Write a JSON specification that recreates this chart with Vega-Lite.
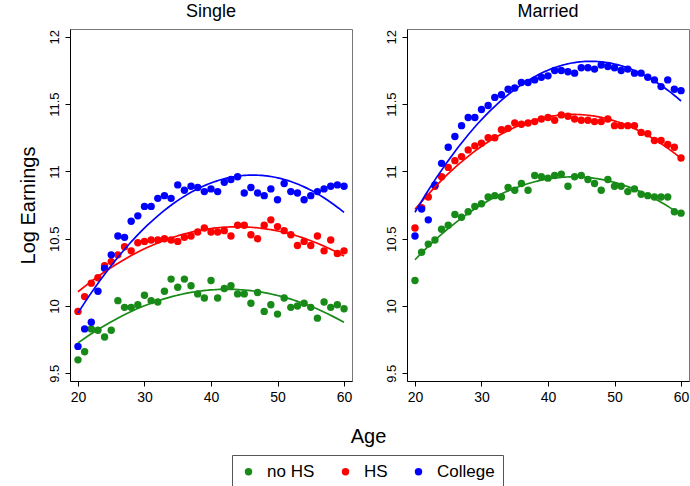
{
  "$schema": "https://vega.github.io/schema/vega-lite/v6.json",
  "background": "white",
  "padding": {"left": 17, "top": 2, "right": 0, "bottom": 0},
  "datasets": {
    "earn": [
      {"status":"Single","edu":"no HS","age":20,"logEarn":9.60},{"status":"Single","edu":"no HS","age":21,"logEarn":9.66},{"status":"Single","edu":"no HS","age":22,"logEarn":9.83},{"status":"Single","edu":"no HS","age":23,"logEarn":9.82},{"status":"Single","edu":"no HS","age":24,"logEarn":9.77},{"status":"Single","edu":"no HS","age":25,"logEarn":9.82},{"status":"Single","edu":"no HS","age":26,"logEarn":10.04},{"status":"Single","edu":"no HS","age":27,"logEarn":9.99},{"status":"Single","edu":"no HS","age":28,"logEarn":9.99},{"status":"Single","edu":"no HS","age":29,"logEarn":10.01},{"status":"Single","edu":"no HS","age":30,"logEarn":10.08},{"status":"Single","edu":"no HS","age":31,"logEarn":10.04},{"status":"Single","edu":"no HS","age":32,"logEarn":10.03},{"status":"Single","edu":"no HS","age":33,"logEarn":10.11},{"status":"Single","edu":"no HS","age":34,"logEarn":10.20},{"status":"Single","edu":"no HS","age":35,"logEarn":10.14},{"status":"Single","edu":"no HS","age":36,"logEarn":10.20},{"status":"Single","edu":"no HS","age":37,"logEarn":10.15},{"status":"Single","edu":"no HS","age":38,"logEarn":10.09},{"status":"Single","edu":"no HS","age":39,"logEarn":10.06},{"status":"Single","edu":"no HS","age":40,"logEarn":10.19},{"status":"Single","edu":"no HS","age":41,"logEarn":10.06},{"status":"Single","edu":"no HS","age":42,"logEarn":10.13},{"status":"Single","edu":"no HS","age":43,"logEarn":10.15},{"status":"Single","edu":"no HS","age":44,"logEarn":10.09},{"status":"Single","edu":"no HS","age":45,"logEarn":10.09},{"status":"Single","edu":"no HS","age":46,"logEarn":10.02},{"status":"Single","edu":"no HS","age":47,"logEarn":10.10},{"status":"Single","edu":"no HS","age":48,"logEarn":9.96},{"status":"Single","edu":"no HS","age":49,"logEarn":10.01},{"status":"Single","edu":"no HS","age":50,"logEarn":9.94},{"status":"Single","edu":"no HS","age":51,"logEarn":10.06},{"status":"Single","edu":"no HS","age":52,"logEarn":9.99},{"status":"Single","edu":"no HS","age":53,"logEarn":10.00},{"status":"Single","edu":"no HS","age":54,"logEarn":10.02},{"status":"Single","edu":"no HS","age":55,"logEarn":9.99},{"status":"Single","edu":"no HS","age":56,"logEarn":9.91},{"status":"Single","edu":"no HS","age":57,"logEarn":10.03},{"status":"Single","edu":"no HS","age":58,"logEarn":9.99},{"status":"Single","edu":"no HS","age":59,"logEarn":10.01},{"status":"Single","edu":"no HS","age":60,"logEarn":9.98},
      {"status":"Single","edu":"HS","age":20,"logEarn":9.96},{"status":"Single","edu":"HS","age":21,"logEarn":10.07},{"status":"Single","edu":"HS","age":22,"logEarn":10.17},{"status":"Single","edu":"HS","age":23,"logEarn":10.21},{"status":"Single","edu":"HS","age":24,"logEarn":10.30},{"status":"Single","edu":"HS","age":25,"logEarn":10.33},{"status":"Single","edu":"HS","age":26,"logEarn":10.38},{"status":"Single","edu":"HS","age":27,"logEarn":10.44},{"status":"Single","edu":"HS","age":28,"logEarn":10.41},{"status":"Single","edu":"HS","age":29,"logEarn":10.47},{"status":"Single","edu":"HS","age":30,"logEarn":10.48},{"status":"Single","edu":"HS","age":31,"logEarn":10.49},{"status":"Single","edu":"HS","age":32,"logEarn":10.49},{"status":"Single","edu":"HS","age":33,"logEarn":10.50},{"status":"Single","edu":"HS","age":34,"logEarn":10.49},{"status":"Single","edu":"HS","age":35,"logEarn":10.48},{"status":"Single","edu":"HS","age":36,"logEarn":10.51},{"status":"Single","edu":"HS","age":37,"logEarn":10.52},{"status":"Single","edu":"HS","age":38,"logEarn":10.55},{"status":"Single","edu":"HS","age":39,"logEarn":10.58},{"status":"Single","edu":"HS","age":40,"logEarn":10.55},{"status":"Single","edu":"HS","age":41,"logEarn":10.55},{"status":"Single","edu":"HS","age":42,"logEarn":10.56},{"status":"Single","edu":"HS","age":43,"logEarn":10.52},{"status":"Single","edu":"HS","age":44,"logEarn":10.60},{"status":"Single","edu":"HS","age":45,"logEarn":10.60},{"status":"Single","edu":"HS","age":46,"logEarn":10.53},{"status":"Single","edu":"HS","age":47,"logEarn":10.50},{"status":"Single","edu":"HS","age":48,"logEarn":10.60},{"status":"Single","edu":"HS","age":49,"logEarn":10.64},{"status":"Single","edu":"HS","age":50,"logEarn":10.59},{"status":"Single","edu":"HS","age":51,"logEarn":10.56},{"status":"Single","edu":"HS","age":52,"logEarn":10.53},{"status":"Single","edu":"HS","age":53,"logEarn":10.45},{"status":"Single","edu":"HS","age":54,"logEarn":10.48},{"status":"Single","edu":"HS","age":55,"logEarn":10.45},{"status":"Single","edu":"HS","age":56,"logEarn":10.52},{"status":"Single","edu":"HS","age":57,"logEarn":10.41},{"status":"Single","edu":"HS","age":58,"logEarn":10.49},{"status":"Single","edu":"HS","age":59,"logEarn":10.39},{"status":"Single","edu":"HS","age":60,"logEarn":10.41},
      {"status":"Single","edu":"College","age":20,"logEarn":9.70},{"status":"Single","edu":"College","age":21,"logEarn":9.83},{"status":"Single","edu":"College","age":22,"logEarn":9.88},{"status":"Single","edu":"College","age":23,"logEarn":10.11},{"status":"Single","edu":"College","age":24,"logEarn":10.28},{"status":"Single","edu":"College","age":25,"logEarn":10.38},{"status":"Single","edu":"College","age":26,"logEarn":10.52},{"status":"Single","edu":"College","age":27,"logEarn":10.51},{"status":"Single","edu":"College","age":28,"logEarn":10.63},{"status":"Single","edu":"College","age":29,"logEarn":10.67},{"status":"Single","edu":"College","age":30,"logEarn":10.74},{"status":"Single","edu":"College","age":31,"logEarn":10.74},{"status":"Single","edu":"College","age":32,"logEarn":10.80},{"status":"Single","edu":"College","age":33,"logEarn":10.82},{"status":"Single","edu":"College","age":34,"logEarn":10.80},{"status":"Single","edu":"College","age":35,"logEarn":10.90},{"status":"Single","edu":"College","age":36,"logEarn":10.86},{"status":"Single","edu":"College","age":37,"logEarn":10.89},{"status":"Single","edu":"College","age":38,"logEarn":10.88},{"status":"Single","edu":"College","age":39,"logEarn":10.85},{"status":"Single","edu":"College","age":40,"logEarn":10.87},{"status":"Single","edu":"College","age":41,"logEarn":10.85},{"status":"Single","edu":"College","age":42,"logEarn":10.92},{"status":"Single","edu":"College","age":43,"logEarn":10.94},{"status":"Single","edu":"College","age":44,"logEarn":10.96},{"status":"Single","edu":"College","age":45,"logEarn":10.84},{"status":"Single","edu":"College","age":46,"logEarn":10.88},{"status":"Single","edu":"College","age":47,"logEarn":10.84},{"status":"Single","edu":"College","age":48,"logEarn":10.82},{"status":"Single","edu":"College","age":49,"logEarn":10.87},{"status":"Single","edu":"College","age":50,"logEarn":10.79},{"status":"Single","edu":"College","age":51,"logEarn":10.91},{"status":"Single","edu":"College","age":52,"logEarn":10.85},{"status":"Single","edu":"College","age":53,"logEarn":10.84},{"status":"Single","edu":"College","age":54,"logEarn":10.79},{"status":"Single","edu":"College","age":55,"logEarn":10.82},{"status":"Single","edu":"College","age":56,"logEarn":10.85},{"status":"Single","edu":"College","age":57,"logEarn":10.87},{"status":"Single","edu":"College","age":58,"logEarn":10.89},{"status":"Single","edu":"College","age":59,"logEarn":10.90},{"status":"Single","edu":"College","age":60,"logEarn":10.89},
      {"status":"Married","edu":"no HS","age":20,"logEarn":10.19},{"status":"Married","edu":"no HS","age":21,"logEarn":10.40},{"status":"Married","edu":"no HS","age":22,"logEarn":10.46},{"status":"Married","edu":"no HS","age":23,"logEarn":10.49},{"status":"Married","edu":"no HS","age":24,"logEarn":10.57},{"status":"Married","edu":"no HS","age":25,"logEarn":10.60},{"status":"Married","edu":"no HS","age":26,"logEarn":10.68},{"status":"Married","edu":"no HS","age":27,"logEarn":10.66},{"status":"Married","edu":"no HS","age":28,"logEarn":10.70},{"status":"Married","edu":"no HS","age":29,"logEarn":10.74},{"status":"Married","edu":"no HS","age":30,"logEarn":10.76},{"status":"Married","edu":"no HS","age":31,"logEarn":10.81},{"status":"Married","edu":"no HS","age":32,"logEarn":10.82},{"status":"Married","edu":"no HS","age":33,"logEarn":10.81},{"status":"Married","edu":"no HS","age":34,"logEarn":10.88},{"status":"Married","edu":"no HS","age":35,"logEarn":10.86},{"status":"Married","edu":"no HS","age":36,"logEarn":10.91},{"status":"Married","edu":"no HS","age":37,"logEarn":10.86},{"status":"Married","edu":"no HS","age":38,"logEarn":10.97},{"status":"Married","edu":"no HS","age":39,"logEarn":10.96},{"status":"Married","edu":"no HS","age":40,"logEarn":10.95},{"status":"Married","edu":"no HS","age":41,"logEarn":10.97},{"status":"Married","edu":"no HS","age":42,"logEarn":10.98},{"status":"Married","edu":"no HS","age":43,"logEarn":10.89},{"status":"Married","edu":"no HS","age":44,"logEarn":10.96},{"status":"Married","edu":"no HS","age":45,"logEarn":10.97},{"status":"Married","edu":"no HS","age":46,"logEarn":10.94},{"status":"Married","edu":"no HS","age":47,"logEarn":10.91},{"status":"Married","edu":"no HS","age":48,"logEarn":10.86},{"status":"Married","edu":"no HS","age":49,"logEarn":10.94},{"status":"Married","edu":"no HS","age":50,"logEarn":10.89},{"status":"Married","edu":"no HS","age":51,"logEarn":10.89},{"status":"Married","edu":"no HS","age":52,"logEarn":10.85},{"status":"Married","edu":"no HS","age":53,"logEarn":10.87},{"status":"Married","edu":"no HS","age":54,"logEarn":10.83},{"status":"Married","edu":"no HS","age":55,"logEarn":10.82},{"status":"Married","edu":"no HS","age":56,"logEarn":10.81},{"status":"Married","edu":"no HS","age":57,"logEarn":10.81},{"status":"Married","edu":"no HS","age":58,"logEarn":10.81},{"status":"Married","edu":"no HS","age":59,"logEarn":10.70},{"status":"Married","edu":"no HS","age":60,"logEarn":10.69},
      {"status":"Married","edu":"HS","age":20,"logEarn":10.58},{"status":"Married","edu":"HS","age":21,"logEarn":10.73},{"status":"Married","edu":"HS","age":22,"logEarn":10.81},{"status":"Married","edu":"HS","age":23,"logEarn":10.89},{"status":"Married","edu":"HS","age":24,"logEarn":10.96},{"status":"Married","edu":"HS","age":25,"logEarn":11.03},{"status":"Married","edu":"HS","age":26,"logEarn":11.08},{"status":"Married","edu":"HS","age":27,"logEarn":11.11},{"status":"Married","edu":"HS","age":28,"logEarn":11.16},{"status":"Married","edu":"HS","age":29,"logEarn":11.19},{"status":"Married","edu":"HS","age":30,"logEarn":11.21},{"status":"Married","edu":"HS","age":31,"logEarn":11.25},{"status":"Married","edu":"HS","age":32,"logEarn":11.25},{"status":"Married","edu":"HS","age":33,"logEarn":11.31},{"status":"Married","edu":"HS","age":34,"logEarn":11.32},{"status":"Married","edu":"HS","age":35,"logEarn":11.36},{"status":"Married","edu":"HS","age":36,"logEarn":11.35},{"status":"Married","edu":"HS","age":37,"logEarn":11.36},{"status":"Married","edu":"HS","age":38,"logEarn":11.37},{"status":"Married","edu":"HS","age":39,"logEarn":11.39},{"status":"Married","edu":"HS","age":40,"logEarn":11.40},{"status":"Married","edu":"HS","age":41,"logEarn":11.38},{"status":"Married","edu":"HS","age":42,"logEarn":11.42},{"status":"Married","edu":"HS","age":43,"logEarn":11.41},{"status":"Married","edu":"HS","age":44,"logEarn":11.39},{"status":"Married","edu":"HS","age":45,"logEarn":11.38},{"status":"Married","edu":"HS","age":46,"logEarn":11.38},{"status":"Married","edu":"HS","age":47,"logEarn":11.37},{"status":"Married","edu":"HS","age":48,"logEarn":11.37},{"status":"Married","edu":"HS","age":49,"logEarn":11.39},{"status":"Married","edu":"HS","age":50,"logEarn":11.34},{"status":"Married","edu":"HS","age":51,"logEarn":11.34},{"status":"Married","edu":"HS","age":52,"logEarn":11.34},{"status":"Married","edu":"HS","age":53,"logEarn":11.34},{"status":"Married","edu":"HS","age":54,"logEarn":11.29},{"status":"Married","edu":"HS","age":55,"logEarn":11.28},{"status":"Married","edu":"HS","age":56,"logEarn":11.23},{"status":"Married","edu":"HS","age":57,"logEarn":11.23},{"status":"Married","edu":"HS","age":58,"logEarn":11.20},{"status":"Married","edu":"HS","age":59,"logEarn":11.18},{"status":"Married","edu":"HS","age":60,"logEarn":11.10},
      {"status":"Married","edu":"College","age":20,"logEarn":10.52},{"status":"Married","edu":"College","age":21,"logEarn":10.72},{"status":"Married","edu":"College","age":22,"logEarn":10.64},{"status":"Married","edu":"College","age":23,"logEarn":10.90},{"status":"Married","edu":"College","age":24,"logEarn":11.06},{"status":"Married","edu":"College","age":25,"logEarn":11.18},{"status":"Married","edu":"College","age":26,"logEarn":11.26},{"status":"Married","edu":"College","age":27,"logEarn":11.34},{"status":"Married","edu":"College","age":28,"logEarn":11.40},{"status":"Married","edu":"College","age":29,"logEarn":11.40},{"status":"Married","edu":"College","age":30,"logEarn":11.46},{"status":"Married","edu":"College","age":31,"logEarn":11.49},{"status":"Married","edu":"College","age":32,"logEarn":11.55},{"status":"Married","edu":"College","age":33,"logEarn":11.57},{"status":"Married","edu":"College","age":34,"logEarn":11.61},{"status":"Married","edu":"College","age":35,"logEarn":11.62},{"status":"Married","edu":"College","age":36,"logEarn":11.66},{"status":"Married","edu":"College","age":37,"logEarn":11.66},{"status":"Married","edu":"College","age":38,"logEarn":11.68},{"status":"Married","edu":"College","age":39,"logEarn":11.70},{"status":"Married","edu":"College","age":40,"logEarn":11.71},{"status":"Married","edu":"College","age":41,"logEarn":11.75},{"status":"Married","edu":"College","age":42,"logEarn":11.75},{"status":"Married","edu":"College","age":43,"logEarn":11.74},{"status":"Married","edu":"College","age":44,"logEarn":11.73},{"status":"Married","edu":"College","age":45,"logEarn":11.77},{"status":"Married","edu":"College","age":46,"logEarn":11.77},{"status":"Married","edu":"College","age":47,"logEarn":11.76},{"status":"Married","edu":"College","age":48,"logEarn":11.79},{"status":"Married","edu":"College","age":49,"logEarn":11.78},{"status":"Married","edu":"College","age":50,"logEarn":11.77},{"status":"Married","edu":"College","age":51,"logEarn":11.75},{"status":"Married","edu":"College","age":52,"logEarn":11.76},{"status":"Married","edu":"College","age":53,"logEarn":11.73},{"status":"Married","edu":"College","age":54,"logEarn":11.73},{"status":"Married","edu":"College","age":55,"logEarn":11.70},{"status":"Married","edu":"College","age":56,"logEarn":11.68},{"status":"Married","edu":"College","age":57,"logEarn":11.63},{"status":"Married","edu":"College","age":58,"logEarn":11.68},{"status":"Married","edu":"College","age":59,"logEarn":11.61},{"status":"Married","edu":"College","age":60,"logEarn":11.60}
    ]
  },
  "data": {"name": "earn"},
  "spacing": 55,
  "bounds": "flush",
  "hconcat": [
    {
      "width": 282,
      "height": 352,
      "title": {"text": "Single"},
      "transform": [{"filter": "datum.status == 'Single'"}],
      "layer": [
        {
          "mark": {"type": "circle", "size": 55, "opacity": 1},
          "encoding": {
            "x": {"field": "age", "type": "quantitative", "scale": {"domain": [18.8, 61.2], "nice": false, "zero": false},
                  "axis": {"title": "Age", "values": [20, 30, 40, 50, 60], "titleX": 298, "titleY": 55, "titleAnchor": null, "titleAlign": "center", "titleBaseline": "middle"}},
            "y": {"field": "logEarn", "type": "quantitative", "scale": {"domain": [9.443, 12.058], "nice": false, "zero": false},
                  "axis": {"title": "Log Earnings", "values": [9.5, 10, 10.5, 11, 11.5, 12], "format": "~g"}},
            "color": {"field": "edu", "type": "nominal", "scale": {"domain": ["no HS", "HS", "College"], "range": ["#178a17", "#ff0000", "#0000ff"]},
                      "legend": {"title": null, "orient": "none", "legendX": 162, "legendY": 426, "direction": "horizontal"}}
          }
        },
        {
          "transform": [{"regression": "logEarn", "on": "age", "method": "poly", "order": 2, "groupby": ["edu"]}],
          "mark": {"type": "line", "strokeWidth": 1.7},
          "encoding": {
            "x": {"field": "age", "type": "quantitative"},
            "y": {"field": "logEarn", "type": "quantitative"},
            "color": {"field": "edu", "type": "nominal", "legend": null}
          }
        }
      ]
    },
    {
      "width": 282,
      "height": 352,
      "title": {"text": "Married"},
      "transform": [{"filter": "datum.status == 'Married'"}],
      "layer": [
        {
          "mark": {"type": "circle", "size": 55, "opacity": 1},
          "encoding": {
            "x": {"field": "age", "type": "quantitative", "scale": {"domain": [18.8, 61.2], "nice": false, "zero": false},
                  "axis": {"title": null, "values": [20, 30, 40, 50, 60]}},
            "y": {"field": "logEarn", "type": "quantitative", "scale": {"domain": [9.443, 12.058], "nice": false, "zero": false},
                  "axis": {"title": null, "values": [9.5, 10, 10.5, 11, 11.5, 12], "format": "~g"}},
            "color": {"field": "edu", "type": "nominal", "scale": {"domain": ["no HS", "HS", "College"], "range": ["#178a17", "#ff0000", "#0000ff"]}}
          }
        },
        {
          "transform": [{"regression": "logEarn", "on": "age", "method": "poly", "order": 2, "groupby": ["edu"]}],
          "mark": {"type": "line", "strokeWidth": 1.7},
          "encoding": {
            "x": {"field": "age", "type": "quantitative"},
            "y": {"field": "logEarn", "type": "quantitative"},
            "color": {"field": "edu", "type": "nominal", "legend": null}
          }
        }
      ]
    }
  ],
  "config": {
    "font": "Liberation Sans",
    "view": {"stroke": "#777", "strokeWidth": 1},
    "title": {"fontSize": 18, "fontWeight": "normal", "color": "#000", "offset": 8, "font": "Liberation Sans"},
    "axis": {
      "grid": false,
      "domainColor": "#000",
      "tickColor": "#000",
      "tickSize": 5,
      "labelColor": "#000",
      "titleColor": "#000",
      "titleFontWeight": "normal",
      "titleFontSize": 20,
      "labelFont": "Liberation Sans",
      "titleFont": "Liberation Sans"
    },
    "axisX": {"labelFontSize": 14, "labelPadding": 4},
    "axisY": {"labelFontSize": 13, "labelAngle": -90, "labelAlign": "center", "labelBaseline": "bottom", "labelPadding": 4, "titlePadding": 10},
    "legend": {
      "labelFontSize": 17,
      "labelColor": "#000",
      "labelFont": "Liberation Sans",
      "symbolType": "circle",
      "symbolSize": 55,
      "symbolStrokeWidth": 0,
      "strokeColor": "#555",
      "padding": 8,
      "columnPadding": 22,
      "labelOffset": 10,
      "rowPadding": 4
    }
  }
}
